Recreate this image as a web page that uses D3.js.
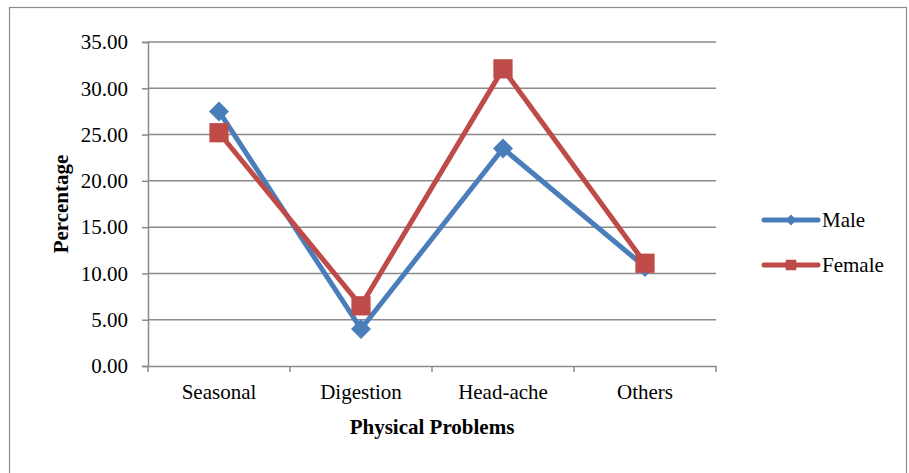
<!DOCTYPE html>
<html lang="en">
<head>
  <meta charset="UTF-8">
  <title>Physical Problems by Gender</title>
  <script src="https://d3js.org/d3.v7.min.js"></script>
  <style>
    body { margin: 0; background: #fff; }
    text { font-family: "Liberation Serif", "Times New Roman", serif; fill: #000; }
  </style>
</head>
<body>
  <svg width="909" height="473"></svg>

  <script>
    // Chart data
    const categories = ["Seasonal", "Digestion", "Head-ache", "Others"];
    const male = [27.5, 4.0, 23.5, 10.7];
    const female = [25.2, 6.5, 32.1, 11.1];
    const yTicks = [0, 5, 10, 15, 20, 25, 30, 35];

    const series = [
      { name: "Male", values: male, color: "#4A7EBB", shape: "diamond" },
      { name: "Female", values: female, color: "#BE4B48", shape: "square" }
    ];

    const fontSize = 21;
    const svg = d3.select("svg");

    // Outer chart border
    svg.append("rect")
      .attr("x", 9.5).attr("y", 7.5)
      .attr("width", 897).attr("height", 480)
      .attr("fill", "none")
      .attr("stroke", "#8c8c8c")
      .attr("stroke-width", 1.2);

    const plot = { left: 148, right: 716, top: 42, bottom: 366 };

    const x = d3.scaleBand()
      .domain(categories)
      .range([plot.left, plot.right]);

    const y = d3.scaleLinear()
      .domain([0, 35])
      .range([plot.bottom, plot.top]);

    // Gridlines
    svg.append("g")
      .selectAll("line")
      .data(yTicks.filter(d => d > 0))
      .join("line")
      .attr("x1", plot.left).attr("x2", plot.right)
      .attr("y1", d => y(d)).attr("y2", d => y(d))
      .attr("stroke", "#8a8a8a")
      .attr("stroke-width", 1.5);

    // Y axis
    const yAxis = svg.append("g")
      .attr("transform", `translate(${plot.left},0)`)
      .call(d3.axisLeft(y).tickValues(yTicks).tickFormat(d3.format(".2f")).tickSize(6).tickPadding(14));
    yAxis.select(".domain").attr("stroke", "#8a8a8a").attr("stroke-width", 1.5);
    yAxis.selectAll(".tick line").attr("stroke", "#8a8a8a").attr("stroke-width", 1.5);
    yAxis.selectAll("text").attr("font-size", fontSize);

    // X axis
    const xAxis = svg.append("g")
      .attr("transform", `translate(0,${plot.bottom})`)
      .call(d3.axisBottom(x).tickSize(0).tickPadding(18));
    xAxis.select(".domain").attr("stroke", "#8a8a8a").attr("stroke-width", 1.5);
    xAxis.selectAll("text").attr("font-size", fontSize);

    // X axis boundary ticks (between categories)
    const bounds = categories.map(c => x(c)).concat([plot.right]);
    svg.append("g")
      .selectAll("line")
      .data(bounds)
      .join("line")
      .attr("x1", d => d).attr("x2", d => d)
      .attr("y1", plot.bottom).attr("y2", plot.bottom + 6)
      .attr("stroke", "#8a8a8a")
      .attr("stroke-width", 1.5);

    // Axis titles
    svg.append("text")
      .attr("x", (plot.left + plot.right) / 2)
      .attr("y", 434)
      .attr("text-anchor", "middle")
      .attr("font-weight", "bold")
      .attr("font-size", fontSize)
      .text("Physical Problems");

    svg.append("text")
      .attr("transform", `translate(68,${(plot.top + plot.bottom) / 2}) rotate(-90)`)
      .attr("text-anchor", "middle")
      .attr("font-weight", "bold")
      .attr("font-size", fontSize)
      .text("Percentage");

    const cx = c => x(c) + x.bandwidth() / 2;

    const line = d3.line()
      .x((d, i) => cx(categories[i]))
      .y(d => y(d));

    const symbolFor = shape => shape === "diamond"
      ? d3.symbol().type(d3.symbolSquare).size(200)
      : d3.symbol().type(d3.symbolSquare).size(370);

    // Lines and markers
    series.forEach(s => {
      svg.append("path")
        .datum(s.values)
        .attr("fill", "none")
        .attr("stroke", s.color)
        .attr("stroke-width", 5)
        .attr("stroke-linejoin", "round")
        .attr("d", line);

      svg.append("g")
        .selectAll("path")
        .data(s.values)
        .join("path")
        .attr("d", symbolFor(s.shape))
        .attr("transform", (d, i) =>
          `translate(${cx(categories[i])},${y(d)})` + (s.shape === "diamond" ? " rotate(45)" : ""))
        .attr("fill", s.color);
    });

    // Legend
    const legend = svg.append("g");
    series.forEach((s, i) => {
      const ly = 220 + i * 45;
      const g = legend.append("g").attr("transform", `translate(0,${ly})`);
      g.append("line")
        .attr("x1", 764).attr("x2", 818)
        .attr("stroke", s.color)
        .attr("stroke-width", 5)
        .attr("stroke-linecap", "round");
      g.append("path")
        .attr("d", d3.symbol().type(d3.symbolSquare).size(s.shape === "diamond" ? 60 : 110))
        .attr("transform", `translate(791,0)` + (s.shape === "diamond" ? " rotate(45)" : ""))
        .attr("fill", s.color);
      g.append("text")
        .attr("x", 822)
        .attr("y", 7)
        .attr("font-size", fontSize)
        .text(s.name);
    });
  </script>
</body>
</html>
